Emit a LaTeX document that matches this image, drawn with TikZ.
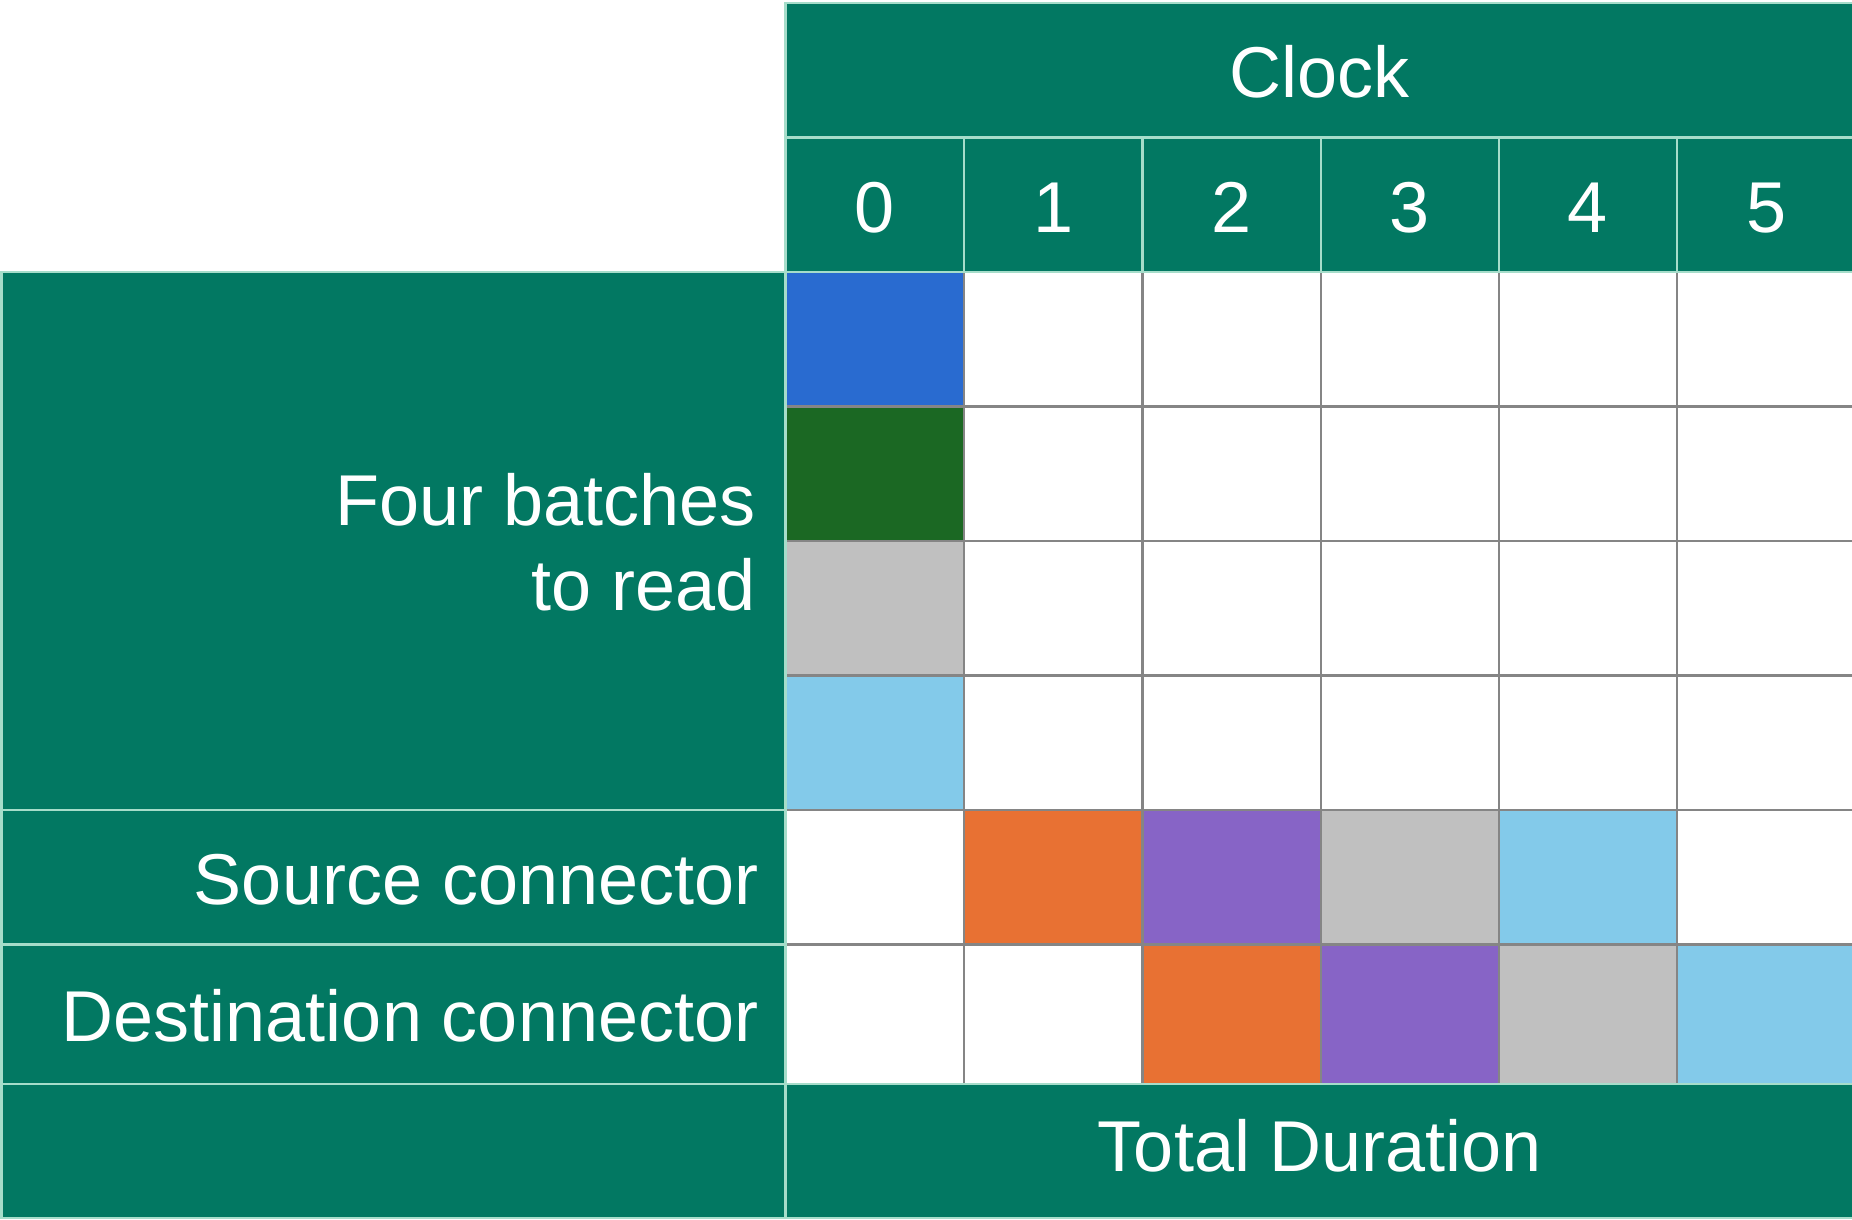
\documentclass[tikz,border=0pt]{standalone}
\usepackage{fontspec}
\setmainfont{Liberation Sans}
\definecolor{tealbg}{HTML}{027862}
\definecolor{mint}{HTML}{A6DDCA}
\definecolor{gridgray}{HTML}{858585}
\definecolor{cblue}{HTML}{296BD0}
\definecolor{cdkgreen}{HTML}{1B6823}
\definecolor{cgray}{HTML}{C0C0C0}
\definecolor{clblue}{HTML}{83CAEA}
\definecolor{corange}{HTML}{E87133}
\definecolor{cpurple}{HTML}{8764C6}
\tikzset{
  tealcell/.style={fill=tealbg, draw=mint, line width=2.5pt},
  gridcell/.style={draw=gridgray, line width=2.8pt},
  lbl/.style={text=white, inner sep=0pt, font=\fontsize{72}{86}\selectfont},
}
\begin{document}
\begin{tikzpicture}[x=1pt,y=-1pt]
\useasboundingbox (0,0) rectangle (1852,1219);
\clip (0,0) rectangle (1852,1219);
\fill[white] (0,0) rectangle (1852,1219);
% grid of white / coloured cells
\foreach \r/\ya/\yb in {0/272/406.5,1/406.5/541,2/541/675.5,3/675.5/810,4/810/944.5,5/944.5/1084}{
  \foreach \c/\xa/\xb in {0/785.5/964,1/964/1142.5,2/1142.5/1321,3/1321/1499,4/1499/1677,5/1677/1860}{
    \draw[gridcell, fill=white] (\xa,\ya) rectangle (\xb,\yb);
  }
}
\draw[gridcell, fill=cblue]    (785.5,272)   rectangle (964,406.5);
\draw[gridcell, fill=cdkgreen] (785.5,406.5) rectangle (964,541);
\draw[gridcell, fill=cgray]    (785.5,541)   rectangle (964,675.5);
\draw[gridcell, fill=clblue]   (785.5,675.5) rectangle (964,810);
\draw[gridcell, fill=corange]  (964,810)    rectangle (1142.5,944.5);
\draw[gridcell, fill=cpurple]  (1142.5,810) rectangle (1321,944.5);
\draw[gridcell, fill=cgray]    (1321,810)   rectangle (1499,944.5);
\draw[gridcell, fill=clblue]   (1499,810)   rectangle (1677,944.5);
\draw[gridcell, fill=corange]  (1142.5,944.5) rectangle (1321,1084);
\draw[gridcell, fill=cpurple]  (1321,944.5)   rectangle (1499,1084);
\draw[gridcell, fill=cgray]    (1499,944.5)   rectangle (1677,1084);
\draw[gridcell, fill=clblue]   (1677,944.5)   rectangle (1860,1084);
% teal header / label cells
\draw[tealcell] (785.5,3) rectangle (1860,137.5);
\foreach \xa/\xb in {785.5/964,964/1142.5,1142.5/1321,1321/1499,1499/1677,1677/1860}{
  \draw[tealcell] (\xa,137.5) rectangle (\xb,272);
}
\draw[tealcell] (1.5,272)    rectangle (785.5,810);
\draw[tealcell] (1.5,810)    rectangle (785.5,944.5);
\draw[tealcell] (1.5,944.5)  rectangle (785.5,1084);
\draw[tealcell] (1.5,1084)   rectangle (785.5,1218);
\draw[tealcell] (785.5,1084) rectangle (1860,1218);
% texts
\node[lbl, anchor=base] (clock) at (1320,97.5) {Clock};
\node[lbl, anchor=base] (t0) at (874.75,232) {0};
\node[lbl, anchor=base] (t1) at (1053.25,232) {1};
\node[lbl, anchor=base] (t2) at (1231.75,232) {2};
\node[lbl, anchor=base] (t3) at (1410,232) {3};
\node[lbl, anchor=base] (t4) at (1588,232) {4};
\node[lbl, anchor=base] (t5) at (1766,232) {5};
\node[lbl, anchor=base east] (four) at (755.5,525.5) {Four batches};
\node[lbl, anchor=base east] (toread) at (755.5,610.5) {to read};
\node[lbl, anchor=base east] (src) at (758.5,904) {Source connector};
\node[lbl, anchor=base east] (dst) at (758.5,1041) {Destination connector};
\node[lbl, anchor=base] (total) at (1320,1171) {Total Duration};
\end{tikzpicture}
\end{document}
